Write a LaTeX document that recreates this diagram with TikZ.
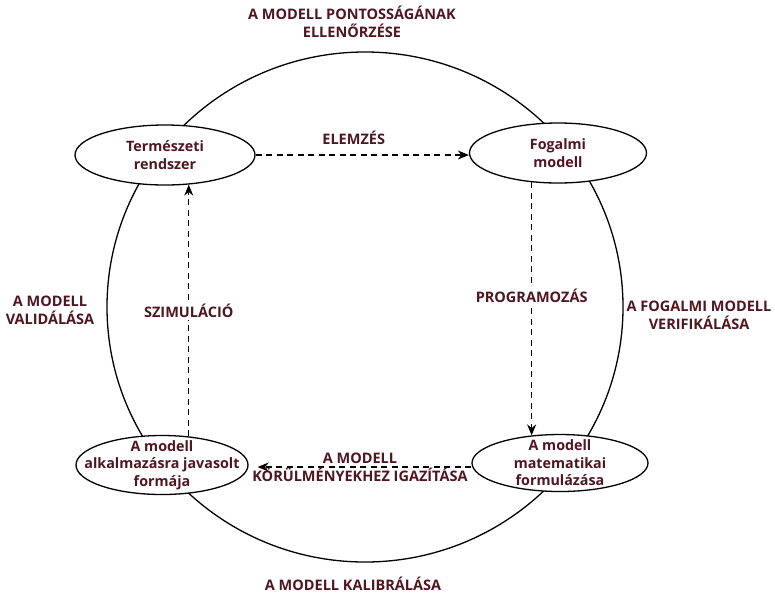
\documentclass[tikz,border=0pt]{standalone}
\usepackage{fontspec}
\setmainfont{Open Sans}
\usetikzlibrary{arrows.meta,shapes.geometric}
\definecolor{txt}{RGB}{80,22,32}
\begin{document}
\begin{tikzpicture}[x=1pt,y=-1pt,
  every node/.style={text=txt, font=\bfseries\fontsize{14.5}{18}\selectfont},
  state/.style={ellipse, draw=black, line width=1.3pt, fill=white, inner sep=0pt},
  stxt/.style={align=center, inner sep=0pt, font=\bfseries\fontsize{14.3}{17.5}\selectfont},
  lbl/.style={align=center},
  arr/.style={draw=black, line width=1.3pt, dash pattern=on 6pt off 4.5pt, -{Stealth[length=11pt,width=9pt]}}]
\useasboundingbox (0,0) rectangle (775,595);
\draw[line width=1.3pt] (365,307) ellipse [x radius=258pt, y radius=255pt];

\node[state, minimum width=180pt, minimum height=60pt] (nat) at (165,155) {};
\node[stxt] (natt) at (nat) {Természeti\\rendszer};
\node[state, minimum width=177pt, minimum height=60pt] (fog) at (558,153) {};
\node[stxt] (fogt) at (fog) {Fogalmi\\modell};
\node[state, minimum width=176pt, minimum height=57pt] (mat) at (560,463) {};
\node[stxt] (matt) at (mat) {A modell\\matematikai\\formulázása};
\node[state, minimum width=172pt, minimum height=59pt] (alk) at (162,465) {};
\node[stxt] (alkt) at (alk) {A modell\\alkalmazásra javasolt\\formája};

\node[lbl] (t1) at (352,22) {A MODELL PONTOSSÁGÁNAK\\ELLENŐRZÉSE};
\node[lbl] (t2) at (353,584) {A MODELL KALIBRÁLÁSA};
\node[lbl] (t3) at (50,310) {A MODELL\\VALIDÁLÁSA};
\node[lbl] (t4) at (699,315) {A FOGALMI MODELL\\VERIFIKÁLÁSA};

\draw[arr] (nat.east) -- (nat.east -| fog.west) node[pos=0.46, above=6pt] (l1) {ELEMZÉS};
\draw[arr] (fog.228) -- (fog.228 |- mat.136) node[pos=0.45, fill=white, inner sep=3pt] (l2) {PROGRAMOZÁS};
\draw[arr] (alk.47) -- (alk.47 |- nat.308) node[midway, fill=white, inner sep=3pt] (l3) {SZIMULÁCIÓ};
\draw[arr, shorten >=9pt] ([yshift=-4pt]mat.west) -- ([yshift=-4pt]mat.west -| alk.east) node[midway, align=center] (l4) {A MODELL\\KÖRÜLMÉNYEKHEZ IGAZÍTÁSA};
\end{tikzpicture}
\end{document}
